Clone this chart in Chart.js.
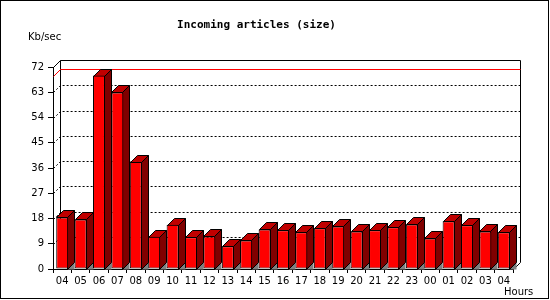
<!DOCTYPE html>
<html>
<head>
<meta charset="utf-8">
<script src="https://cdn.jsdelivr.net/npm/chart.js@4"></script>
<style>
  body { margin: 0; background: #fff; }
  canvas { display: block; }
</style>
</head>
<body>
<canvas id="myChart" width="550" height="300"></canvas>
<script>
// hours on the x axis (last 24h, 04 -> 04)
const hours = ['04', '05', '06', '07', '08', '09', '10', '11', '12', '13', '14', '15', '16',
               '17', '18', '19', '20', '21', '22', '23', '00', '01', '02', '03', '04'];
// incoming size, Kb/sec
const sizes = [18.4, 17.7, 69.0, 63.0, 38.2, 11.5, 15.8, 11.3, 11.6, 8.1, 10.2, 14.1, 13.8,
               13.1, 14.5, 15.2, 13.4, 13.8, 14.9, 15.9, 10.9, 17.0, 15.6, 13.4, 13.1];
const yTicks = [0, 9, 18, 27, 36, 45, 54, 63, 72];

const peak = Math.max(...sizes);
const depth = 7;

//3d box: back wall, dotted grid, side/top faces of the bars
const box3d = {
    id: 'box3d',
    beforeDraw(chart) {
        const c = chart.ctx;
        c.save();
        c.fillStyle = '#fff';
        c.fillRect(0, 0, chart.width, chart.height);
        c.restore();
    },
    beforeDatasetsDraw(chart) {
        const c = chart.ctx;
        const a = chart.chartArea;
        const y = chart.scales.y;
        const L = Math.round(a.left) + 0.5, R = Math.round(a.right) + 0.5;
        const T = Math.round(a.top) + 0.5, B = Math.round(a.bottom) + 0.5;
        c.save();
        c.lineWidth = 1;

        //dotted grid lines on the back wall
        c.strokeStyle = '#000';
        c.setLineDash([2, 2]);
        yTicks.forEach((v) => {
            if (v == 0 || v == 72) return;
            const py = Math.round(y.getPixelForValue(v)) + 0.5;
            c.beginPath();
            c.moveTo(L, py);
            c.lineTo(L + depth, py - depth);
            c.lineTo(R + depth, py - depth);
            c.stroke();
        });
        c.setLineDash([]);

        //box frame
        c.strokeStyle = '#000';
        c.beginPath();
        c.moveTo(L, T);
        c.lineTo(L + depth, T - depth);
        c.lineTo(R + depth, T - depth);
        c.lineTo(R + depth, B - depth);
        c.lineTo(R, B);
        c.moveTo(L + depth, T - depth);
        c.lineTo(L + depth, B - depth);
        c.stroke();

        //max line
        const my = Math.round(y.getPixelForValue(peak)) + 0.5;
        c.strokeStyle = '#ff0000';
        c.beginPath();
        c.moveTo(L, my);
        c.lineTo(L + depth, my - depth);
        c.lineTo(R + depth, my - depth);
        c.stroke();

        //bar sides, tops and floor shadows
        c.strokeStyle = '#000';
        chart.getDatasetMeta(0).data.forEach((bar) => {
            const p = bar.getProps(['x', 'y', 'base', 'width'], true);
            const x0 = Math.round(p.x - p.width / 2) + 0.5;
            const x1 = Math.round(p.x + p.width / 2) - 0.5;
            const ty = Math.round(p.y) + 0.5;

            c.fillStyle = '#808080';
            c.beginPath();
            c.moveTo(x1, B);
            c.lineTo(x1 + depth, B - depth);
            c.lineTo(x1 + depth, B);
            c.closePath();
            c.fill();

            c.fillStyle = '#800000';
            c.beginPath();
            c.moveTo(x1, ty);
            c.lineTo(x1 + depth, ty - depth);
            c.lineTo(x1 + depth, B - depth);
            c.lineTo(x1, B);
            c.closePath();
            c.fill();
            c.stroke();

            c.fillStyle = '#c00000';
            c.beginPath();
            c.moveTo(x0, ty);
            c.lineTo(x0 + depth, ty - depth);
            c.lineTo(x1 + depth, ty - depth);
            c.lineTo(x1, ty);
            c.closePath();
            c.fill();
            c.stroke();
        });
        c.restore();
    },
    afterDraw(chart) {
        const c = chart.ctx;
        c.save();
        c.strokeStyle = '#000';
        c.lineWidth = 1;
        c.strokeRect(0.5, 0.5, 548, 298);
        c.fillStyle = '#000';
        c.font = '10px "DejaVu Sans"';
        c.textBaseline = 'middle';
        c.textAlign = 'left';
        c.fillText('Kb/sec', 28, 37);
        c.fillText('Hours', 504, 292);
        c.restore();
    }
};

const ctx = document.getElementById('myChart').getContext('2d');
const myChart = new Chart(ctx, {
    type: 'bar',
    data: {
        labels: hours,
        datasets: [{
            label: 'Incoming',
            data: sizes,
            backgroundColor: '#ff0000',
            borderColor: '#000',
            borderWidth: 1,
            borderSkipped: false,
            categoryPercentage: 1,
            barPercentage: 0.65
        }]
    },
    options: {
        responsive: false,
        animation: false,
        devicePixelRatio: 1,
        layout: { padding: { left: 0, right: 37, top: 0, bottom: 0 } },
        plugins: {
            legend: { display: false },
            tooltip: { enabled: false },
            title: {
                display: true,
                text: 'Incoming articles (size)',
                color: '#000',
                font: { family: 'DejaVu Sans Mono', size: 11, weight: 'bold' },
                padding: { top: 19, bottom: 35 }
            }
        },
        scales: {
            x: {
                afterFit: (s) => { s.height = 31; },
                grid: { drawOnChartArea: false, color: '#000', tickLength: 4 },
                border: { color: '#000' },
                ticks: {
                    color: '#000',
                    font: { family: 'DejaVu Sans', size: 10 },
                    padding: 2,
                    maxRotation: 0,
                    autoSkip: false
                }
            },
            y: {
                min: 0,
                max: 72,
                afterFit: (s) => { s.width = 53; },
                afterBuildTicks: (s) => { s.ticks = yTicks.map((v) => ({ value: v })); },
                grid: { drawOnChartArea: false, color: '#000', tickLength: 5 },
                border: { color: '#000' },
                ticks: {
                    color: '#000',
                    font: { family: 'DejaVu Sans', size: 10 },
                    padding: 4
                }
            }
        }
    },
    plugins: [box3d]
});
</script>
</body>
</html>
